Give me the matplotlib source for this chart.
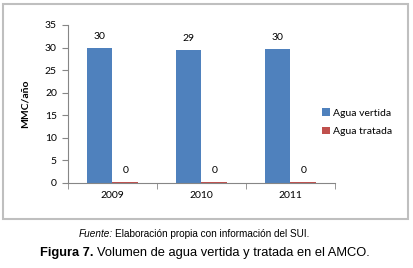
import matplotlib
matplotlib.use("Agg")
import matplotlib.pyplot as plt
from matplotlib.patches import Rectangle
import numpy as np

years = ["2009", "2010", "2011"]
vertida = [30.0, 29.4, 29.6]
tratada = [0.2, 0.2, 0.2]
vertida_labels = ["30", "29", "30"]
tratada_labels = ["0", "0", "0"]
series_names = ["Agua vertida", "Agua tratada"]
yticks = [0, 5, 10, 15, 20, 25, 30, 35]

W, H = 414, 268
fig = plt.figure(figsize=(W/100, H/100), dpi=100)
fig.patch.set_facecolor("white")

# outer border
fig.patches.append(Rectangle((3/W, 1-219/H), (408-3)/W, (219-4)/H,
                             transform=fig.transFigure, fill=False,
                             edgecolor="#bfbfbf", linewidth=1.5))

ax = fig.add_axes([68/W, 1-183/H, (335-68)/W, (183-25)/H])
fam = ["Lato", "DejaVu Sans"]
x = np.arange(len(years))
bw = 0.29
b1 = ax.bar(x - bw/2, vertida, bw, color="#4F81BD", label=series_names[0])
b2 = ax.bar(x + bw/2, tratada, bw, color="#C0504D", label=series_names[1])
for xi, v, l in zip(x, vertida, vertida_labels):
    ax.annotate(l, (xi - bw/2, v), xytext=(0, 5), textcoords="offset points",
                ha="center", va="bottom", fontsize=7.5, family=fam)
for xi, v, l in zip(x, tratada, tratada_labels):
    ax.annotate(l, (xi + bw/2, v), xytext=(0, 5), textcoords="offset points",
                ha="center", va="bottom", fontsize=7.5, family=fam)

ax.set_xlim(-0.5, 2.5)
ax.set_ylim(0, 35)
ax.set_yticks(yticks)
ax.set_yticklabels([str(t) for t in yticks], fontsize=7.5, family=fam)
ax.set_xticks(x)
ax.set_xticklabels(years, fontsize=7.5, family=fam)
ax.set_xticks([-0.5, 0.5, 1.5, 2.5], minor=True)
ax.tick_params(axis="x", which="major", length=0, pad=6)
ax.tick_params(axis="x", which="minor", length=4, color="#868686", direction="out")
ax.tick_params(axis="y", length=4, color="#868686", pad=4)
for s in ["top", "right"]:
    ax.spines[s].set_visible(False)
for s in ["left", "bottom"]:
    ax.spines[s].set_color("#868686")
    ax.spines[s].set_linewidth(0.8)
ax.set_ylabel("MMC/año", fontsize=7.5, fontweight="bold", family=fam, labelpad=11)

leg = fig.legend(handles=[b1, b2], labels=series_names, loc="upper left",
                 bbox_to_anchor=(314/W, 1-100/H), bbox_transform=fig.transFigure,
                 frameon=False, prop={"family": fam, "size": 7.5},
                 handlelength=0.7, handleheight=0.7,
                 handletextpad=0.3, labelspacing=0.9, borderpad=0.3)

fam2 = ["Liberation Sans", "DejaVu Sans"]
fig.text(113/W, 1-234/H, "Fuente:", ha="right", va="center", fontsize=7.2,
         style="italic", family=fam2)
fig.text(115/W, 1-234/H, "Elaboración propia con información del SUI.", ha="left",
         va="center", fontsize=7.2, family=fam2)
fig.text(94/W, 1-253/H, "Figura 7.", ha="right", va="center", fontsize=9.3,
         fontweight="bold", family=fam2)
fig.text(97/W, 1-253/H, "Volumen de agua vertida y tratada en el AMCO.", ha="left",
         va="center", fontsize=9.3, family=fam2)

fig.savefig("out.png", dpi=100)
